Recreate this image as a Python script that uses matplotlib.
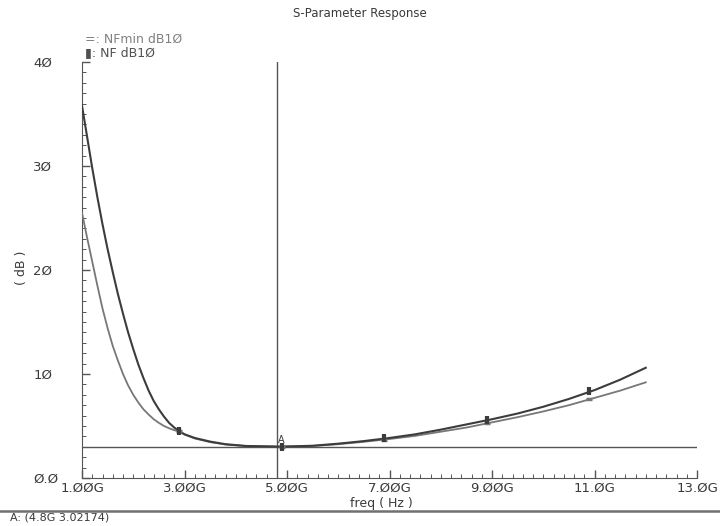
import matplotlib
matplotlib.use("Agg")
import matplotlib.pyplot as plt
from matplotlib.ticker import FixedLocator, MultipleLocator

# ---- data (frequencies in GHz, values in dB) ----
freq_nf = [1.0, 1.1, 1.2, 1.3, 1.4, 1.5, 1.6, 1.7, 1.8, 1.9, 2.0, 2.1, 2.2, 2.3,
           2.4, 2.5, 2.6, 2.7, 2.8, 2.9, 3.0, 3.2, 3.5, 3.8, 4.2, 4.8, 5.0, 5.5,
           6.0, 6.5, 7.0, 7.5, 8.0, 8.5, 9.0, 9.5, 10.0, 10.5, 11.0, 11.5, 12.0]
nf_db = [35.8, 32.8, 29.8, 27.0, 24.4, 22.0, 19.8, 17.7, 15.8, 14.0, 12.4, 10.9,
         9.6, 8.4, 7.4, 6.6, 5.9, 5.3, 4.85, 4.5, 4.2, 3.85, 3.5, 3.25, 3.08,
         3.02, 3.03, 3.1, 3.3, 3.55, 3.85, 4.2, 4.65, 5.15, 5.65, 6.2, 6.85,
         7.6, 8.45, 9.45, 10.6]

freq_nfmin = [1.0, 1.1, 1.2, 1.3, 1.4, 1.5, 1.6, 1.7, 1.8, 1.9, 2.0, 2.1, 2.2,
              2.3, 2.4, 2.5, 2.6, 2.7, 2.8, 2.9, 3.0, 3.2, 3.5, 3.8, 4.2, 4.8,
              5.0, 5.5, 6.0, 6.5, 7.0, 7.5, 8.0, 8.5, 9.0, 9.5, 10.0, 10.5,
              11.0, 11.5, 12.0]
nfmin_db = [25.5, 23.1, 20.8, 18.5, 16.3, 14.4, 12.7, 11.3, 10.0, 8.9, 8.0,
            7.25, 6.6, 6.1, 5.65, 5.3, 5.0, 4.78, 4.6, 4.45, 4.2, 3.8, 3.45,
            3.22, 3.07, 3.02, 3.03, 3.08, 3.25, 3.48, 3.75, 4.05, 4.45, 4.85,
            5.35, 5.85, 6.4, 7.0, 7.7, 8.4, 9.2]

marker_freq = [2.9, 4.9, 6.9, 8.9, 10.9]
nf_marker = [4.5, 3.02, 3.8, 5.58, 8.35]
nfmin_marker = [4.5, 3.02, 3.7, 5.26, 7.6]

marker_a_freq = 4.8
marker_a_value = 3.02174

x_ticks = [1, 3, 5, 7, 9, 11, 13]
x_tick_labels = ["1.ØØG", "3.ØØG", "5.ØØG", "7.ØØG", "9.ØØG", "11.ØG", "13.ØG"]
y_ticks = [0, 10, 20, 30, 40]
y_tick_labels = ["Ø.Ø", "1Ø", "2Ø", "3Ø", "4Ø"]

title = "S-Parameter Response"
legend_nfmin = "=: NFmin dB1Ø"
legend_nf = "▮: NF dB1Ø"
x_label = "freq ( Hz )"
y_label = "( dB )"
status_text = "A: (4.8G 3.02174)"

# ---- styling ----
W, H = 720, 526
dark = "#3c3c3c"
light = "#777777"
axis_col = "#555555"
text_col = "#3a3a3a"
plt.rcParams["font.family"] = ["DejaVu Sans"]

fig = plt.figure(figsize=(W / 100, H / 100), dpi=100)
fig.patch.set_facecolor("white")
ax = fig.add_axes([82 / W, 1 - 478 / H, (697 - 82) / W, (478 - 62) / H])

ax.plot(freq_nfmin, nfmin_db, color=light, lw=1.3, zorder=3)
ax.plot(freq_nf, nf_db, color=dark, lw=1.5, zorder=4)
ax.plot(marker_freq, nfmin_marker, ls="none", marker="_", ms=5, mew=2.5,
        color=light, zorder=5)
ax.plot(marker_freq, nf_marker, ls="none", marker="|", ms=6, mew=3,
        color=dark, zorder=6)

# marker A lines
ax.axvline(marker_a_freq, color=axis_col, lw=1.0, zorder=2)
ax.axhline(marker_a_value, color=axis_col, lw=1.0, zorder=2)
ax.text(marker_a_freq + 0.02, marker_a_value + 0.15, "A", fontsize=7,
        color=text_col, ha="left", va="bottom", zorder=7)

ax.set_xlim(1, 13)
ax.set_ylim(0, 40)

for s in ["top", "right"]:
    ax.spines[s].set_visible(False)
for s in ["left", "bottom"]:
    ax.spines[s].set_color(axis_col)
    ax.spines[s].set_linewidth(0.8)

ax.xaxis.set_major_locator(FixedLocator(x_ticks))
ax.set_xticklabels(x_tick_labels)
ax.xaxis.set_minor_locator(MultipleLocator(0.2))
ax.yaxis.set_major_locator(FixedLocator(y_ticks))
ax.set_yticklabels(y_tick_labels)
ax.yaxis.set_minor_locator(MultipleLocator(1))

ax.tick_params(axis="both", which="major", direction="in", length=6, width=1.0,
               color=axis_col, labelcolor=text_col, labelsize=9.5)
ax.tick_params(axis="both", which="minor", direction="in", length=3, width=0.7,
               color=axis_col)
ax.tick_params(axis="x", which="major", pad=3)
ax.tick_params(axis="y", which="major", pad=35)
for lbl in ax.get_yticklabels():
    lbl.set_horizontalalignment("left")

# texts
fig.text(360 / W, 1 - 13 / H, title, ha="center", va="center", fontsize=8.5,
         color=text_col)
fig.text(85 / W, 1 - 39 / H, legend_nfmin, ha="left", va="center", fontsize=9,
         color="#808080")
fig.text(85 / W, 1 - 53 / H, legend_nf, ha="left", va="center", fontsize=9,
         color="#505050")
fig.text(381 / W, 1 - 503 / H, x_label, ha="center", va="center", fontsize=9,
         color=text_col)
fig.text(22 / W, 1 - 268 / H, y_label, ha="center", va="center", fontsize=9,
         color=text_col, rotation=90)

# separator and status line
sep = plt.Line2D([0, 1], [1 - 511 / H, 1 - 511 / H], transform=fig.transFigure,
                 color="#707070", lw=1.8)
fig.add_artist(sep)
fig.text(10 / W, 1 - 518 / H, status_text, ha="left", va="center", fontsize=8,
         color=text_col)

fig.savefig("out.png", dpi=100)
